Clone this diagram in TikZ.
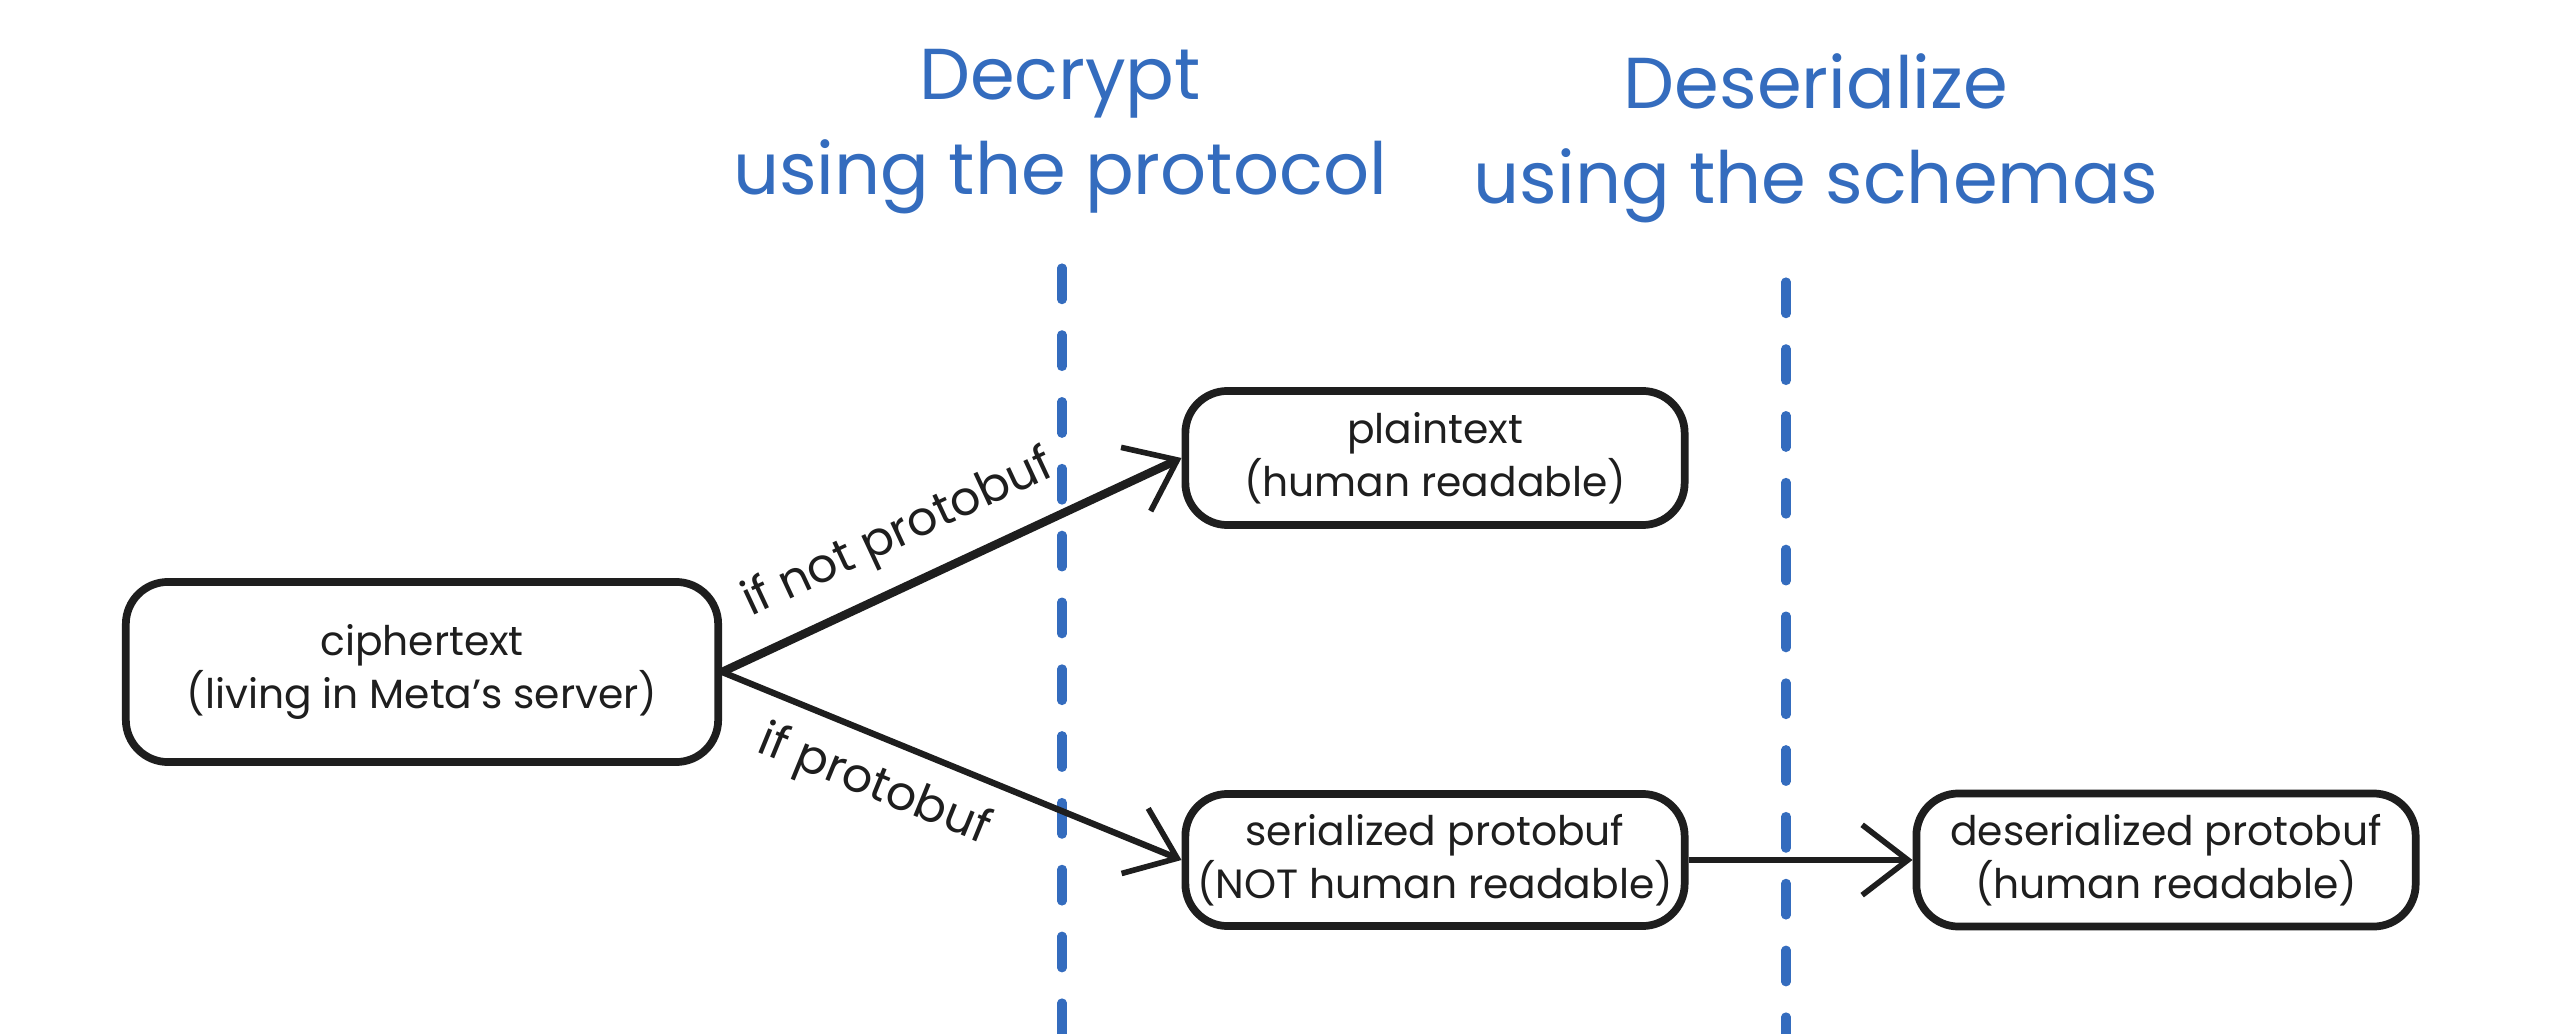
\documentclass[tikz,border=0pt]{standalone}
\usepackage{fontspec}
\setmainfont{Poppins}
\usetikzlibrary{arrows.meta}
\definecolor{sketchblue}{RGB}{52,108,190}
\definecolor{ink}{RGB}{30,30,30}
\tikzset{
  box/.style={draw=ink, line width=2.2pt, rounded corners=12pt, align=center, font=\fontsize{11.6}{15}\selectfont, text=ink, inner sep=1pt},
  title/.style={text=sketchblue, align=center, font=\fontsize{20.5}{27}\selectfont},
  divider/.style={draw=sketchblue, line width=2.6pt, dash pattern=on 9pt off 10pt, line cap=round},
  conn/.style={draw=ink, -{Straight Barb[length=13pt,width=20pt,line width=1.6pt]}},
  elabel/.style={font=\fontsize{13.5}{15}\selectfont, text=ink, sloped, inner sep=1pt}
}
\begin{document}
\begin{tikzpicture}[x=0.01cm,y=-0.01cm]
\useasboundingbox[fill=white] (0,0) rectangle (2558,1034);
% titles
\node[title] (t1) at (1060,132) {Decrypt\\using the protocol};
\node[title] (t2) at (1816,138) {Deserialize\\using the schemas};
% dividers
\coordinate (d1a) at (1062,268);
\coordinate (d1b) at (1062,1034);
\coordinate (d2a) at (1786,282);
\coordinate (d2b) at (1786,1034);
\draw[divider] (d1a) -- (d1b);
\draw[divider] (d2a) -- (d2b);
% boxes
\node[box, minimum width=5.92cm, minimum height=1.8cm] (cipher) at (422,672) {ciphertext\\(living in Meta's server)};
\node[box, minimum width=4.99cm, minimum height=1.34cm] (plain) at (1435,458) {plaintext\\(human readable)};
\node[box, minimum width=4.99cm, minimum height=1.32cm] (ser) at (1435,860) {serialized protobuf\\(NOT human readable)};
\node[box, minimum width=4.99cm, minimum height=1.33cm] (deser) at (2166,860) {deserialized protobuf\\(human readable)};
% connectors
\draw[conn, line width=2.4pt] (cipher.east) -- (plain.west) node[elabel, pos=0.43, above=5pt] {if not protobuf};
\draw[conn, line width=1.8pt] (cipher.east) -- (ser.west) node[elabel, pos=0.37, below=5pt] {if protobuf};
\draw[conn, line width=1.6pt] (ser.east) -- (deser.west);
\end{tikzpicture}
\end{document}
